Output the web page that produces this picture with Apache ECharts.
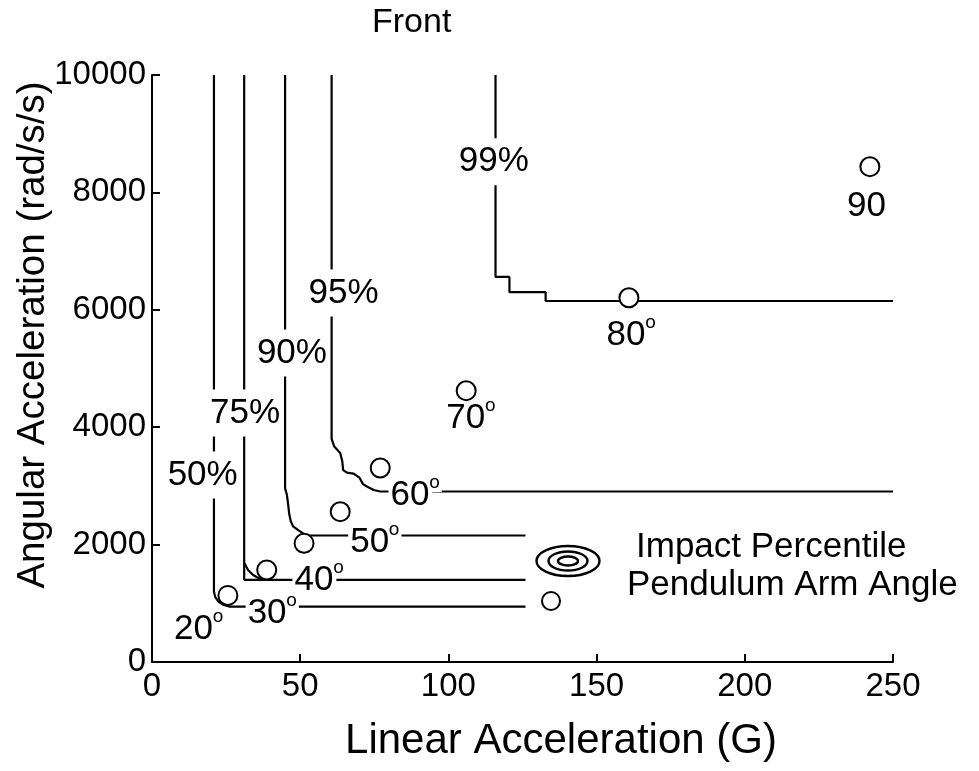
<!DOCTYPE html>
<html>
<head>
<meta charset="utf-8">
<script src="https://cdn.jsdelivr.net/npm/echarts@6/dist/echarts.min.js"></script>
<style>
  html, body { margin: 0; padding: 0; background: #fff; }
  #chart { width: 979px; height: 771px; }
</style>
</head>
<body>
<div id="chart"></div>
<script>
// Axis ticks
const xTicks = [0, 50, 100, 150, 200, 250];
const yTicks = [0, 2000, 4000, 6000, 8000, 10000];

// Impact percentile contours (linear G, angular rad/s/s)
const p50X = [20.9, 20.9, 21.3, 22.4, 24.2, 26.0, 126];
const p50Y = [10000, 1200, 1110, 1030, 970, 945, 945];

const p75X = [31.1, 31.1, 126];
const p75Y = [10000, 1400, 1400];
const p75CornerX = [31.1, 32.4, 34.1, 36.5, 38.0];
const p75CornerY = [1690, 1567, 1482, 1414, 1400];

const p90X = [44.9, 44.9, 45.5, 45.9, 46.3, 46.8, 47.6, 49.2, 51.0, 52.5, 126];
const p90Y = [10000, 2960, 2850, 2700, 2520, 2400, 2310, 2250, 2190, 2155, 2155];

const p95X = [60.6, 60.6, 61.5, 63.5, 64.2, 64.5, 65.8, 68.0, 70.0, 71.2, 72.5, 74.8, 77.0, 250];
const p95Y = [10000, 3800, 3670, 3560, 3420, 3270, 3225, 3210, 3140, 3030, 2990, 2930, 2905, 2905];

const p99X = [115.9, 115.9, 120.6, 120.6, 132.8, 132.8, 250];
const p99Y = [10000, 6560, 6560, 6300, 6300, 6150, 6150];

// Contour labels
const pctText = ['50%', '75%', '90%', '95%', '99%'];
const pctX = [17.1, 31.4, 47.2, 64.6, 115.3];
const pctY = [3186, 4242, 5264, 6286, 8523];

// Pendulum arm angle test points
const armX = [25.6, 38.7, 51.3, 63.5, 77.0, 106.0, 160.9, 242.2];
const armY = [1135, 1567, 2022, 2561, 3305, 4622, 6206, 8438];

// Pendulum arm angle labels (degree mark drawn where angDeg is true)
const angText = ['20', '30', '40', '50', '60', '70', '80', '90'];
const angDeg = [true, true, true, true, true, true, true, false];
const angX = [14.2, 39.0, 54.8, 73.6, 87.2, 106.0, 160.1, 241.2];
const angY = [562, 835, 1397, 2036, 2845, 4157, 5571, 7756];

const FONT = "'Liberation Sans', Arial, Helvetica, sans-serif";
const pairs = (xs, ys) => xs.map((x, i) => [x, ys[i]]);

// Stippled fill for the test-point markers
const dots = document.createElement('canvas');
dots.width = 5; dots.height = 5;
const dc = dots.getContext('2d');
dc.fillStyle = '#fff'; dc.fillRect(0, 0, 5, 5);
dc.fillStyle = '#222';
dc.fillRect(1, 1, 1.5, 1.5);

function contour(name, xs, ys) {
  return {
    name: name,
    type: 'line',
    data: pairs(xs, ys),
    showSymbol: false,
    symbol: 'none',
    silent: true,
    z: 2,
    lineStyle: { color: '#000', width: 2.2 }
  };
}

function textSeries(name, data, label) {
  return {
    name: name,
    type: 'scatter',
    silent: true,
    z: 3,
    symbolSize: 0,
    itemStyle: { color: '#000', opacity: 1 },
    data: data,
    label: Object.assign({
      show: true,
      position: 'inside',
      color: '#000',
      opacity: 1,
      textBorderWidth: 0,
      fontFamily: FONT,
      backgroundColor: '#fff'
    }, label)
  };
}

const degData = [];
angX.forEach((x, i) => { if (angDeg[i]) degData.push([x, angY[i]]); });

const chart = echarts.init(document.getElementById('chart'), null, { renderer: 'canvas' });

chart.setOption({
  animation: false,
  backgroundColor: '#fff',
  textStyle: { fontFamily: FONT },
  grid: { left: 152, right: 86, top: 75, bottom: 109, containLabel: false },
  xAxis: {
    type: 'value',
    min: xTicks[0],
    max: xTicks[xTicks.length - 1],
    interval: xTicks[1] - xTicks[0],
    axisLine: { show: true, onZero: false, lineStyle: { color: '#000', width: 2 } },
    axisTick: { show: true, inside: true, length: 8, lineStyle: { color: '#000', width: 2 } },
    axisLabel: { color: '#000', fontSize: 33, fontFamily: FONT, margin: 8, formatter: v => String(v) },
    splitLine: { show: false }
  },
  yAxis: {
    type: 'value',
    min: yTicks[0],
    max: yTicks[yTicks.length - 1],
    interval: yTicks[1] - yTicks[0],
    axisLine: { show: true, onZero: false, lineStyle: { color: '#000', width: 2 } },
    axisTick: { show: true, inside: true, length: 8, lineStyle: { color: '#000', width: 2 } },
    axisLabel: { color: '#000', fontSize: 33, fontFamily: FONT, margin: 6, formatter: v => String(v) },
    splitLine: { show: false }
  },
  graphic: [
    { type: 'text', left: 372, top: 6, style: { text: 'Front', fontSize: 34, fontFamily: FONT, fill: '#000' } },
    { type: 'text', x: 561, y: 741, style: { text: 'Linear Acceleration (G)', fontSize: 42, fontFamily: FONT, fill: '#000', align: 'center', verticalAlign: 'middle' } },
    { type: 'text', x: 33, y: 335, rotation: Math.PI / 2, style: { text: 'Angular Acceleration (rad/s/s)', fontSize: 38.5, fontFamily: FONT, fill: '#000', align: 'center', verticalAlign: 'middle' } },
    // legend icons
    { type: 'ellipse', shape: { cx: 568, cy: 561, rx: 31.5, ry: 15 }, style: { fill: 'none', stroke: '#000', lineWidth: 2.4 }, z: 10 },
    { type: 'ellipse', shape: { cx: 568, cy: 561, rx: 19.5, ry: 9.5 }, style: { fill: 'none', stroke: '#000', lineWidth: 2.4 }, z: 10 },
    { type: 'ellipse', shape: { cx: 568, cy: 561, rx: 10, ry: 4.5 }, style: { fill: 'none', stroke: '#000', lineWidth: 2.4 }, z: 10 },
    { type: 'circle', shape: { cx: 551, cy: 601, r: 9 }, style: { fill: '#fff', stroke: '#000', lineWidth: 2 }, z: 10 },
    { type: 'text', x: 636, y: 547, style: { text: 'Impact Percentile', fontSize: 35, fontFamily: FONT, fill: '#000', verticalAlign: 'middle' }, z: 10 },
    { type: 'text', x: 627, y: 585, style: { text: 'Pendulum Arm Angle', fontSize: 35, fontFamily: FONT, fill: '#000', verticalAlign: 'middle' }, z: 10 }
  ],
  series: [
    contour('50%', p50X, p50Y),
    contour('75%', p75X, p75Y),
    contour('75% corner', p75CornerX, p75CornerY),
    contour('90%', p90X, p90Y),
    contour('95%', p95X, p95Y),
    contour('99%', p99X, p99Y),
    textSeries('Percentile labels',
      pctX.map((x, i) => ({ value: [x, pctY[i]], name: pctText[i] })),
      { formatter: p => p.name, fontSize: 35, padding: [4, 1, 8, 1] }),
    textSeries('Angle labels',
      angX.map((x, i) => ({ value: [x, angY[i]], name: angText[i] })),
      { formatter: p => p.name, fontSize: 35, padding: [0, 3, 0, 2] }),
    textSeries('Degree marks', degData,
      { formatter: 'o', fontSize: 19, offset: [25, -12.5], padding: [0, 2, 0, 0] }),
    {
      name: 'Pendulum Arm Angle',
      type: 'scatter',
      silent: true,
      z: 4,
      symbol: 'circle',
      symbolSize: 19,
      data: pairs(armX, armY),
      itemStyle: {
        color: { image: dots, repeat: 'repeat' },
        opacity: 1,
        borderColor: '#000',
        borderWidth: 2
      }
    }
  ]
});
</script>
</body>
</html>
